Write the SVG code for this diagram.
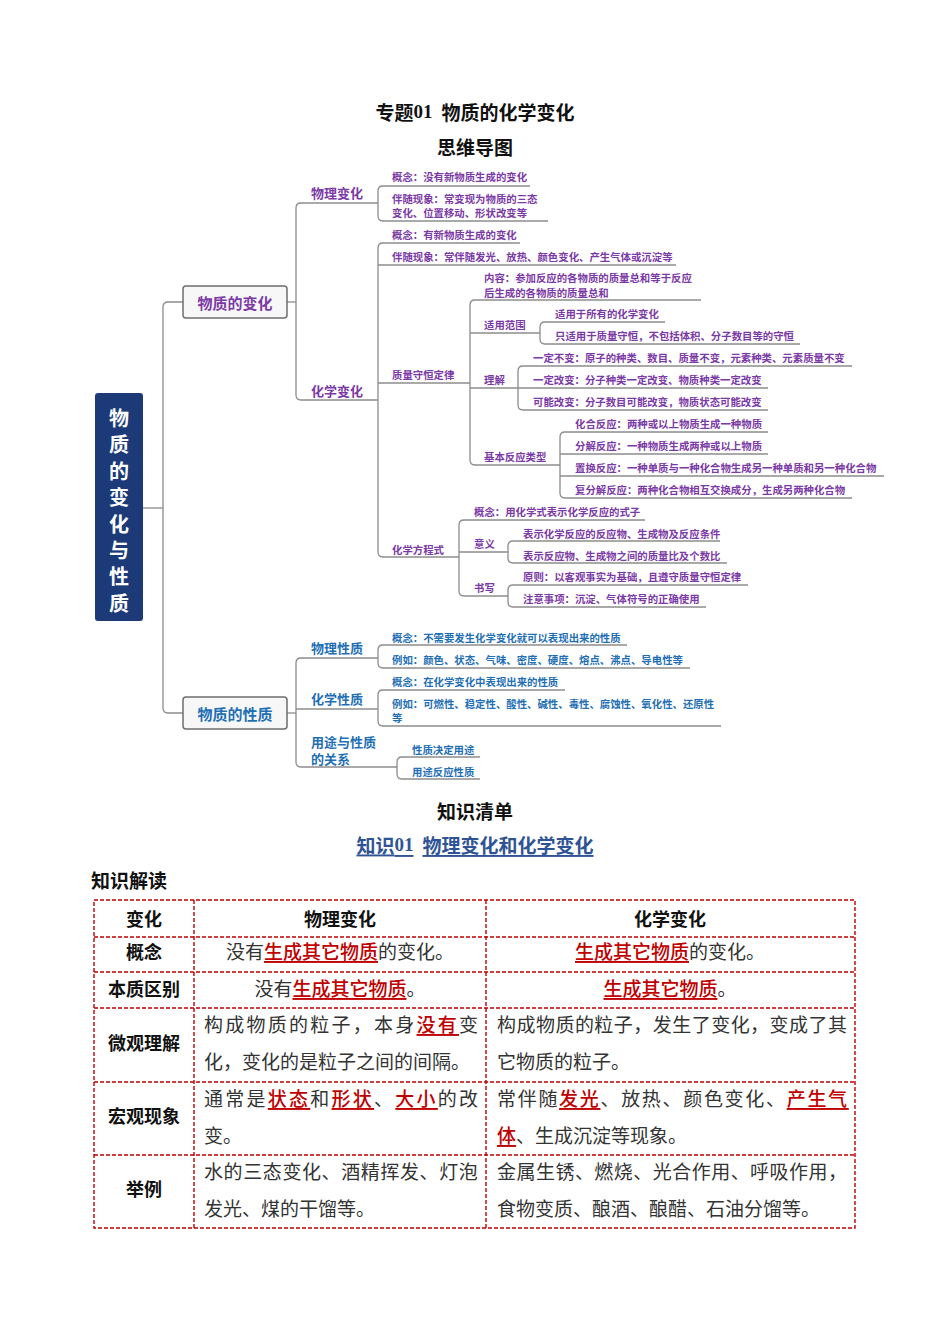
<svg xmlns="http://www.w3.org/2000/svg" width="950" height="1344" viewBox="0 0 950 1344">
<style>
text{font-family:"Noto Sans CJK SC","Liberation Sans",sans-serif;dominant-baseline:central}
.ln{fill:none;stroke:#8c8c8c;stroke-width:1.3}
.ul{fill:none;stroke:#8c8c8c;stroke-width:1.3}
.p{fill:#7B3AA6;font-weight:700;font-size:10.4px}
.b{fill:#1F6FB5;font-weight:700;font-size:10.4px}
.l1{font-size:13px}
.box{fill:#F7F7F7;stroke:#6e6e6e;stroke-width:1.5}
.bx{font-size:15px;font-weight:700;text-anchor:middle}
.rt{fill:#fff;font-size:20px;font-weight:700;text-anchor:middle}
.tt{fill:#111;font-size:19px;font-weight:700;text-anchor:middle}
.tb{fill:none;stroke:#C00000;stroke-width:1.4;stroke-dasharray:4 2}
.hd{fill:#111;font-size:18px;font-weight:700;text-anchor:middle}
.bd{fill:#333;font-size:19px;font-weight:400}
.rd{fill:#C00000;font-weight:500;text-decoration:underline}
</style>

<g id="titles">
<text class="tt" x="475" y="111">专题<tspan font-family="Liberation Serif" font-weight="700">01</tspan><tspan dx="9">物质的化学变化</tspan></text>
<text class="tt" x="475" y="146">思维导图</text>
<text class="tt" x="475" y="810">知识清单</text>
<text class="tt" x="475" y="844" style="fill:#2F5496;text-decoration:underline">知识<tspan font-family="Liberation Serif">01</tspan><tspan dx="9">物理变化和化学变化</tspan></text>
<text class="tt" x="91" y="879" style="text-anchor:start">知识解读</text>
</g>

<g id="connectors">
<path class="ln" d="M143,508 H163"/>
<path class="ln" d="M183,302 H168 Q163,302 163,307 V708 Q163,713 168,713 H183"/>
<path class="ln" d="M287,302 H296"/>
<path class="ln" d="M301,203 Q296,203 296,208 V395 Q296,400 301,400"/>
<path class="ln" d="M383,186 Q378,186 378,191 V216 Q378,221 383,221"/>
<path class="ln" d="M383,243 Q378,243 378,248 V552 Q378,557 383,557"/>
<path class="ln" d="M475,300 Q470,300 470,305 V460 Q470,465 475,465"/>
<path class="ln" d="M545,322 Q540,322 540,327 V339 Q540,344 545,344"/>
<path class="ln" d="M523,366 Q518,366 518,371 V405 Q518,410 523,410"/>
<path class="ln" d="M565,432 Q560,432 560,437 V493 Q560,498 565,498"/>
<path class="ln" d="M464,520 Q459,520 459,525 V591 Q459,596 464,596"/>
<path class="ln" d="M513,541 Q508,541 508,546 V558 Q508,563 513,563"/>
<path class="ln" d="M513,585 Q508,585 508,590 V602 Q508,607 513,607"/>
<path class="ln" d="M287,713 H296"/>
<path class="ln" d="M301,658 Q296,658 296,663 V762 Q296,767 301,767"/>
<path class="ln" d="M383,645 Q378,645 378,650 V663 Q378,668 383,668"/>
<path class="ln" d="M383,690 Q378,690 378,695 V721 Q378,726 383,726"/>
<path class="ln" d="M402,757 Q397,757 397,762 V774 Q397,779 402,779"/>
</g>

<g id="root">
<rect x="95" y="393" width="48" height="228" rx="3" fill="#1C3A78"/>
<text class="rt" x="119" y="417">物<tspan x="119" dy="26.4">质</tspan><tspan x="119" dy="26.4">的</tspan><tspan x="119" dy="26.4">变</tspan><tspan x="119" dy="26.4">化</tspan><tspan x="119" dy="26.4">与</tspan><tspan x="119" dy="26.4">性</tspan><tspan x="119" dy="26.4">质</tspan></text>
</g>

<g id="n-change">
<rect class="box" x="183" y="286" width="104" height="32" rx="3"/>
<text class="bx" x="235" y="302" fill="#7B3AA6">物质的变化</text>
</g>
<g id="n-property">
<rect class="box" x="183" y="697" width="104" height="32" rx="3"/>
<text class="bx" x="235" y="713" fill="#1F6FB5">物质的性质</text>
</g>

<g id="n-phys-change">
<line class="ul" x1="301" y1="203" x2="378" y2="203"/>
<text class="p l1" x="311" y="192">物理变化</text>
</g>
<g id="n-phys-concept">
<line class="ul" x1="383" y1="186" x2="530" y2="186"/>
<text class="p" x="392" y="176">概念：没有新物质生成的变化</text>
</g>
<g id="n-phys-phen">
<line class="ul" x1="383" y1="221" x2="548" y2="221"/>
<text class="p" x="392" y="198">伴随现象：常变现为物质的三态</text>
<text class="p" x="392" y="212">变化、位置移动、形状改变等</text>
</g>

<g id="n-chem-change">
<line class="ul" x1="301" y1="400" x2="378" y2="400"/>
<text class="p l1" x="311" y="390">化学变化</text>
</g>
<g id="n-chem-concept">
<line class="ul" x1="383" y1="243" x2="520" y2="243"/>
<text class="p" x="392" y="234">概念：有新物质生成的变化</text>
</g>
<g id="n-chem-phen">
<line class="ul" x1="378" y1="265" x2="676" y2="265"/>
<text class="p" x="392" y="256">伴随现象：常伴随发光、放热、颜色变化、产生气体或沉淀等</text>
</g>
<g id="n-conservation">
<line class="ul" x1="378" y1="383" x2="470" y2="383"/>
<text class="p" x="392" y="374">质量守恒定律</text>
</g>
<g id="n-cons-content">
<line class="ul" x1="475" y1="300" x2="701" y2="300"/>
<text class="p" x="484" y="277">内容：参加反应的各物质的质量总和等于反应</text>
<text class="p" x="484" y="292">后生成的各物质的质量总和</text>
</g>
<g id="n-scope">
<line class="ul" x1="470" y1="333" x2="540" y2="333"/>
<text class="p" x="484" y="324">适用范围</text>
</g>
<g id="n-scope-1">
<line class="ul" x1="545" y1="322" x2="665" y2="322"/>
<text class="p" x="555" y="313">适用于所有的化学变化</text>
</g>
<g id="n-scope-2">
<line class="ul" x1="545" y1="344" x2="800" y2="344"/>
<text class="p" x="555" y="335">只适用于质量守恒，不包括体积、分子数目等的守恒</text>
</g>
<g id="n-understand">
<line class="ul" x1="470" y1="388" x2="518" y2="388"/>
<text class="p" x="484" y="379">理解</text>
</g>
<g id="n-und-1">
<line class="ul" x1="523" y1="366" x2="852" y2="366"/>
<text class="p" x="533" y="357">一定不变：原子的种类、数目、质量不变，元素种类、元素质量不变</text>
</g>
<g id="n-und-2">
<line class="ul" x1="518" y1="388" x2="768" y2="388"/>
<text class="p" x="533" y="379">一定改变：分子种类一定改变、物质种类一定改变</text>
</g>
<g id="n-und-3">
<line class="ul" x1="523" y1="410" x2="768" y2="410"/>
<text class="p" x="533" y="401">可能改变：分子数目可能改变，物质状态可能改变</text>
</g>
<g id="n-types">
<line class="ul" x1="475" y1="465" x2="560" y2="465"/>
<text class="p" x="484" y="456">基本反应类型</text>
</g>
<g id="n-type-1">
<line class="ul" x1="565" y1="432" x2="768" y2="432"/>
<text class="p" x="575" y="423">化合反应：两种或以上物质生成一种物质</text>
</g>
<g id="n-type-2">
<line class="ul" x1="560" y1="454" x2="768" y2="454"/>
<text class="p" x="575" y="445">分解反应：一种物质生成两种或以上物质</text>
</g>
<g id="n-type-3">
<line class="ul" x1="560" y1="476" x2="884" y2="476"/>
<text class="p" x="575" y="467">置换反应：一种单质与一种化合物生成另一种单质和另一种化合物</text>
</g>
<g id="n-type-4">
<line class="ul" x1="565" y1="498" x2="852" y2="498"/>
<text class="p" x="575" y="489">复分解反应：两种化合物相互交换成分，生成另两种化合物</text>
</g>
<g id="n-equation">
<line class="ul" x1="383" y1="557" x2="459" y2="557"/>
<text class="p" x="392" y="549">化学方程式</text>
</g>
<g id="n-eq-concept">
<line class="ul" x1="464" y1="520" x2="645" y2="520"/>
<text class="p" x="474" y="511">概念：用化学式表示化学反应的式子</text>
</g>
<g id="n-meaning">
<line class="ul" x1="459" y1="552" x2="508" y2="552"/>
<text class="p" x="474" y="543">意义</text>
</g>
<g id="n-meaning-1">
<line class="ul" x1="513" y1="541" x2="720" y2="541"/>
<text class="p" x="523" y="533">表示化学反应的反应物、生成物及反应条件</text>
</g>
<g id="n-meaning-2">
<line class="ul" x1="513" y1="563" x2="727" y2="563"/>
<text class="p" x="523" y="555">表示反应物、生成物之间的质量比及个数比</text>
</g>
<g id="n-writing">
<line class="ul" x1="464" y1="596" x2="508" y2="596"/>
<text class="p" x="474" y="587">书写</text>
</g>
<g id="n-writing-1">
<line class="ul" x1="513" y1="585" x2="748" y2="585"/>
<text class="p" x="523" y="576">原则：以客观事实为基础，且遵守质量守恒定律</text>
</g>
<g id="n-writing-2">
<line class="ul" x1="513" y1="607" x2="706" y2="607"/>
<text class="p" x="523" y="598">注意事项：沉淀、气体符号的正确使用</text>
</g>

<g id="n-phys-prop">
<line class="ul" x1="301" y1="658" x2="378" y2="658"/>
<text class="b l1" x="311" y="647">物理性质</text>
</g>
<g id="n-pp-concept">
<line class="ul" x1="383" y1="645" x2="627" y2="645"/>
<text class="b" x="392" y="637">概念：不需要发生化学变化就可以表现出来的性质</text>
</g>
<g id="n-pp-example">
<line class="ul" x1="383" y1="668" x2="690" y2="668"/>
<text class="b" x="392" y="659">例如：颜色、状态、气味、密度、硬度、熔点、沸点、导电性等</text>
</g>
<g id="n-chem-prop">
<line class="ul" x1="296" y1="709" x2="378" y2="709"/>
<text class="b l1" x="311" y="698">化学性质</text>
</g>
<g id="n-cp-concept">
<line class="ul" x1="383" y1="690" x2="565" y2="690"/>
<text class="b" x="392" y="681">概念：在化学变化中表现出来的性质</text>
</g>
<g id="n-cp-example">
<line class="ul" x1="383" y1="726" x2="721" y2="726"/>
<text class="b" x="392" y="703">例如：可燃性、稳定性、酸性、碱性、毒性、腐蚀性、氧化性、还原性</text>
<text class="b" x="392" y="717">等</text>
</g>
<g id="n-use">
<line class="ul" x1="301" y1="767" x2="397" y2="767"/>
<text class="b l1" x="311" y="741">用途与性质</text>
<text class="b l1" x="311" y="758">的关系</text>
</g>
<g id="n-use-1">
<line class="ul" x1="402" y1="757" x2="480" y2="757"/>
<text class="b" x="412" y="749">性质决定用途</text>
</g>
<g id="n-use-2">
<line class="ul" x1="402" y1="779" x2="480" y2="779"/>
<text class="b" x="412" y="771">用途反应性质</text>
</g>

<g id="table">
<rect class="tb" x="94" y="900" width="761" height="328"/>
<path class="tb" d="M194,900 V1228 M486,900 V1228 M94,937 H855 M94,972 H855 M94,1008 H855 M94,1082 H855 M94,1155 H855"/>
<text class="hd" x="144" y="918">变化</text>
<text class="hd" x="340" y="918">物理变化</text>
<text class="hd" x="670" y="918">化学变化</text>
<text class="hd" x="144" y="951">概念</text>
<text class="hd" x="144" y="988">本质区别</text>
<text class="hd" x="144" y="1042">微观理解</text>
<text class="hd" x="144" y="1115">宏观现象</text>
<text class="hd" x="144" y="1188">举例</text>

<text class="bd" x="340" y="950" text-anchor="middle">没有<tspan class="rd">生成其它物质</tspan>的变化。</text>
<text class="bd" x="670" y="950" text-anchor="middle"><tspan class="rd">生成其它物质</tspan>的变化。</text>
<text class="bd" x="340" y="987" text-anchor="middle">没有<tspan class="rd">生成其它物质</tspan>。</text>
<text class="bd" x="670" y="987" text-anchor="middle"><tspan class="rd">生成其它物质</tspan>。</text>

<text class="bd" x="204" y="1023" letter-spacing="2.25">构成物质的粒子，本身<tspan class="rd">没有</tspan>变</text>
<text class="bd" x="204" y="1060">化，变化的是粒子之间的间隔。</text>
<text class="bd" x="497" y="1023" letter-spacing="0.47">构成物质的粒子，发生了变化，变成了其</text>
<text class="bd" x="497" y="1060">它物质的粒子。</text>

<text class="bd" x="204" y="1097" letter-spacing="2.25">通常是<tspan class="rd">状态</tspan>和<tspan class="rd">形状</tspan>、<tspan class="rd">大小</tspan>的改</text>
<text class="bd" x="204" y="1134">变。</text>
<text class="bd" x="497" y="1097" letter-spacing="1.69">常伴随<tspan class="rd">发光</tspan>、放热、颜色变化、<tspan class="rd">产生气</tspan></text>
<text class="bd" x="497" y="1134"><tspan class="rd">体</tspan>、生成沉淀等现象。</text>

<text class="bd" x="204" y="1170" letter-spacing="0.6">水的三态变化、酒精挥发、灯泡</text>
<text class="bd" x="204" y="1207">发光、煤的干馏等。</text>
<text class="bd" x="497" y="1170" letter-spacing="0.47">金属生锈、燃烧、光合作用、呼吸作用，</text>
<text class="bd" x="497" y="1207">食物变质、酿酒、酿醋、石油分馏等。</text>
</g>
</svg>
